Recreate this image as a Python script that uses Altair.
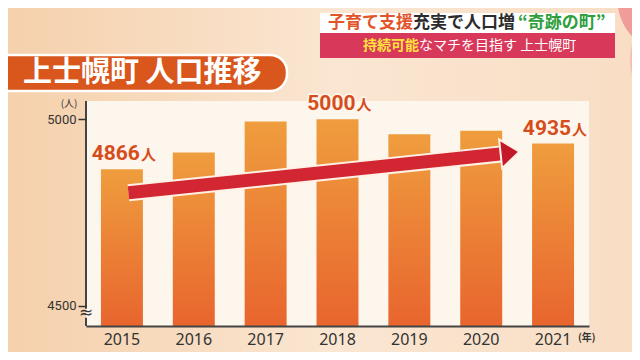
import altair as alt
import pandas as pd

# ---- data ----
years = ["2015", "2016", "2017", "2018", "2019", "2020", "2021"]
population = [4866, 4911, 4994, 5000, 4960, 4969, 4935]
labeled_years = ["2015", "2018", "2021"]
y_ticks = [4500, 5000]
y_domain = [4446, 5049]
axis_break = [4492, 4468, 4480]  # top of gap, bottom of gap, symbol centre

arrow_years = ["2015", "2021"]
arrow_values = [4803, 4909]
arrow_tip_value = 4913

title_text = "上士幌町 人口推移"
headline_parts = ["子育て支援", "充実で人口増", "“奇跡の町”"]
sub_parts = ["持続可能", "なマチを目指す 上士幌町"]
unit_y = "(人)"
unit_x = "(年)"
unit_label = "人"

W, H = 503, 225
NUM = "Roboto"
CJK = "Noto Sans CJK JP"
LABEL_COLOR = "#d64d1c"

df = pd.DataFrame({"year": years, "population": population})
arrow_df = pd.DataFrame({"year": [arrow_years[0]], "year_end": [arrow_years[1]],
                         "v0": [arrow_values[0]], "v1": [arrow_values[1]]})
tip_df = pd.DataFrame({"year": [arrow_years[1]], "v": [arrow_tip_value]})
one = pd.DataFrame({"a": [0]})

xscale = alt.Scale(domain=years, paddingInner=0.416, paddingOuter=0.208)
yscale = alt.Scale(domain=y_domain, nice=False, zero=False)

def grad(stops, x2=0, y2=1):
    return alt.LinearGradient(
        gradient="linear", x1=0, y1=0, x2=x2, y2=y2,
        stops=[alt.GradientStop(offset=o, color=c) for o, c in stops])

deco = alt.Chart(one)

bg = deco.mark_rect(color=grad([(0, "#f5cfa9"), (0.5, "#fae6d2"), (1, "#f8dcc2")], x2=1, y2=0)).encode(
    x=alt.value(-100), x2=alt.value(600), y=alt.value(-100), y2=alt.value(300))
panel = deco.mark_rect(color="#fdf6ec").encode(
    x=alt.value(0), x2=alt.value(W), y=alt.value(0), y2=alt.value(H))

circle2 = deco.mark_point(filled=True, size=14400, color="#f6bdb6", opacity=1).encode(
    x=alt.value(604), y=alt.value(-41))
circle1 = deco.mark_point(filled=True, size=11000, color="#f09c98", opacity=1).encode(
    x=alt.value(584), y=alt.value(-101))

title_box = deco.mark_rect(color="#d9561c", cornerRadius=17, stroke="white", strokeWidth=2.5).encode(
    x=alt.value(-120), x2=alt.value(201), y=alt.value(-46), y2=alt.value(-10))
title = deco.mark_text(align="left", baseline="middle", font=CJK, fontWeight="bold",
                       fontSize=29, color="white").encode(
    x=alt.value(-63), y=alt.value(-28), text=alt.value(title_text))

white_box = deco.mark_rect(color="white").encode(
    x=alt.value(234), x2=alt.value(529), y=alt.value(-88), y2=alt.value(-68))
pink_box = deco.mark_rect(color="#d8395a").encode(
    x=alt.value(234), x2=alt.value(529), y=alt.value(-68), y2=alt.value(-43))

h1 = deco.mark_text(align="left", baseline="middle", font=CJK, fontWeight="bold", fontSize=17,
                    color="#e2552a").encode(x=alt.value(242), y=alt.value(-78), text=alt.value(headline_parts[0]))
h2 = deco.mark_text(align="left", baseline="middle", font=CJK, fontWeight="bold", fontSize=17,
                    color="#2b2b2b").encode(x=alt.value(327), y=alt.value(-78), text=alt.value(headline_parts[1]))
h3 = deco.mark_text(align="left", baseline="middle", font=CJK, fontWeight="bold", fontSize=17,
                    color="#2f9e3c").encode(x=alt.value(432), y=alt.value(-78), text=alt.value(headline_parts[2]))
s1 = deco.mark_text(align="left", baseline="middle", font=CJK, fontWeight="bold", fontSize=14,
                    color="#ffe23c").encode(x=alt.value(277), y=alt.value(-55), text=alt.value(sub_parts[0]))
s2 = deco.mark_text(align="left", baseline="middle", font=CJK, fontWeight="normal", fontSize=14,
                    color="white").encode(x=alt.value(333), y=alt.value(-55), text=alt.value(sub_parts[1]))

base = alt.Chart(df)

bars = base.mark_bar(color=grad([(0, "#ef9d3e"), (1, "#e8652e")])).encode(
    x=alt.X("year:N", scale=xscale, sort=years,
            axis=alt.Axis(title=None, ticks=False, labelFontSize=16, labelFont="Noto Sans",
                          labelColor="#333", labelPadding=5, domainColor="#444",
                          domainWidth=2, labelAngle=0, zindex=1)),
    y=alt.Y("population:Q", scale=yscale,
            axis=alt.Axis(title=None, values=y_ticks, format="d", tickSize=8, tickWidth=1.5,
                          tickColor="#333", labelFont=NUM, labelFontSize=13,
                          labelColor="#333", labelPadding=2, domain=False, grid=False, zindex=1)),
    y2=alt.datum(y_domain[0]),
)

yline_top = deco.mark_rule(color="#444", strokeWidth=2).encode(
    x=alt.value(0), y=alt.datum(y_domain[1], scale=yscale), y2=alt.datum(axis_break[0]))
yline_bot = deco.mark_rule(color="#444", strokeWidth=2).encode(
    x=alt.value(0), y=alt.datum(axis_break[1], scale=yscale), y2=alt.datum(y_domain[0]))
brk = deco.mark_text(align="center", baseline="middle", font="DejaVu Sans", fontSize=17,
                     color="#333").encode(x=alt.value(0), y=alt.datum(axis_break[2], scale=yscale),
                                          text=alt.value("≈"))

arrow_bg = alt.Chart(arrow_df).mark_rule(strokeWidth=17, color="#fff1e4", xOffset=6.5,
                                         x2Offset=-44, strokeCap="butt").encode(
    x=alt.X("year:N", scale=xscale), x2="year_end:N",
    y=alt.Y("v0:Q", scale=yscale), y2="v1:Q")
arrow = alt.Chart(arrow_df).mark_rule(strokeWidth=13, color="#d22633", xOffset=6.5,
                                      x2Offset=-46, strokeCap="butt").encode(
    x=alt.X("year:N", scale=xscale), x2="year_end:N",
    y=alt.Y("v0:Q", scale=yscale), y2="v1:Q")
head = alt.Chart(tip_df).mark_point(shape="M0,0L-1.3,-1L-1.3,1Z", size=841, filled=True,
                                    color="#c3172a", stroke="#fff1e4", strokeWidth=2,
                                    opacity=1, angle=354, xOffset=-33.7).encode(
    x=alt.X("year:N", scale=xscale), y=alt.Y("v:Q", scale=yscale))

lab = base.transform_filter(alt.FieldOneOfPredicate(field="year", oneOf=labeled_years))
lab_outline = lab.mark_text(align="right", baseline="alphabetic", dx=18, dy=-9, font=NUM,
                            fontWeight="bold", fontSize=21, color="white", stroke="#fff6ee",
                            strokeWidth=3, strokeJoin="round").encode(
    x="year:N", y="population:Q", text=alt.Text("population:Q", format="d"))
lab_text = lab.mark_text(align="right", baseline="alphabetic", dx=18, dy=-9, font=NUM,
                         fontWeight="bold", fontSize=21, color=LABEL_COLOR).encode(
    x="year:N", y="population:Q", text=alt.Text("population:Q", format="d"))
lab_unit_o = lab.mark_text(align="left", baseline="alphabetic", dx=19, dy=-9, font=CJK,
                           fontWeight="bold", fontSize=15, color="white", stroke="#fff6ee",
                           strokeWidth=3, strokeJoin="round").encode(
    x="year:N", y="population:Q", text=alt.value(unit_label))
lab_unit = lab.mark_text(align="left", baseline="alphabetic", dx=19, dy=-9, font=CJK,
                         fontWeight="bold", fontSize=15, color=LABEL_COLOR).encode(
    x="year:N", y="population:Q", text=alt.value(unit_label))

uy = deco.mark_text(align="center", baseline="middle", font=CJK, fontSize=10, color="#333").encode(
    x=alt.value(-17), y=alt.value(3), text=alt.value(unit_y))
ux = deco.mark_text(align="left", baseline="middle", font=CJK, fontWeight="bold", fontSize=10,
                    color="#333").encode(x=alt.value(492), y=alt.value(237), text=alt.value(unit_x))

chart = alt.layer(
    bg, panel, circle2, circle1, title_box, title, white_box, pink_box, h1, h2, h3, s1, s2,
    bars, yline_top, yline_bot, brk, arrow_bg, arrow, head,
    lab_outline, lab_text, lab_unit_o, lab_unit, uy, ux,
).properties(
    width=W, height=H,
    padding={"left": 78, "top": 93, "right": 43, "bottom": 26},
    autosize=alt.AutoSizeParams(type="none"),
    background="#f8dcc2",
).configure_view(stroke=None)

chart.save("out.html", embed_options={"renderer": "svg", "actions": False})
